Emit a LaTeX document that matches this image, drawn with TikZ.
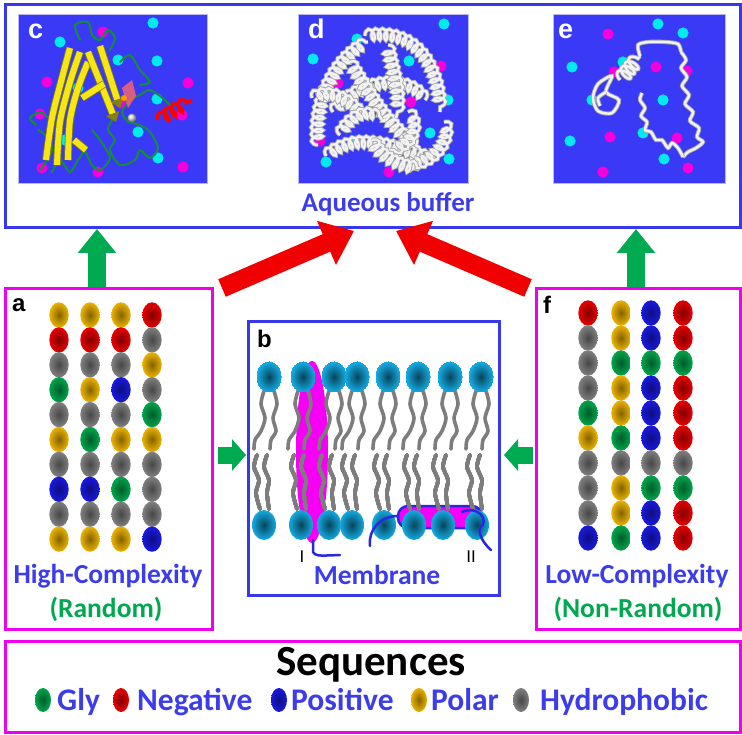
\documentclass[tikz,border=0pt]{standalone}
\usepackage{fontspec}
\setmainfont{Carlito}
\newfontfamily\arialf{Liberation Sans}
\usetikzlibrary{arrows.meta,decorations.pathmorphing,shapes.geometric}
\definecolor{bbox}{RGB}{55,55,235}
\definecolor{mbox}{RGB}{238,0,238}
\definecolor{pbg}{RGB}{58,58,246}
\definecolor{tblue}{RGB}{60,60,235}
\definecolor{tgreen}{RGB}{0,168,80}
\definecolor{arrg}{RGB}{0,170,80}
\definecolor{arrr}{RGB}{240,0,0}
\definecolor{cY}{RGB}{235,178,0}
\definecolor{cR}{RGB}{232,0,0}
\definecolor{cH}{RGB}{128,128,128}
\definecolor{cL}{RGB}{0,165,75}
\definecolor{cP}{RGB}{25,25,225}
\definecolor{dcyan}{RGB}{0,235,240}
\definecolor{dmag}{RGB}{245,0,220}
\definecolor{headc}{RGB}{20,170,225}
\definecolor{tailc}{RGB}{125,125,125}
\definecolor{protm}{RGB}{245,0,245}
\definecolor{protb}{RGB}{40,40,225}
\definecolor{ribY}{RGB}{245,230,20}
\definecolor{coilG}{RGB}{20,140,60}
\newcommand\lipidtop[1]{%
 \draw[tail] plot[smooth] coordinates {({#1-5},391) ({#1-8},404) ({#1-4},418) ({#1-8},431) ({#1-14},440) ({#1-15},449)};
 \draw[tail] plot[smooth] coordinates {({#1+5},391) ({#1+8},404) ({#1+4},418) ({#1+7},431) ({#1+2},440) ({#1+1},449)};}
\newcommand\lipidbot[1]{%
 \draw[tail] plot[smooth] coordinates {({#1-7},455) ({#1-10},467) ({#1-5},480) ({#1-8},493) ({#1-4},509)};
 \draw[tail] plot[smooth] coordinates {({#1+3},455) ({#1},467) ({#1+5},480) ({#1+3},493) ({#1+5},509)};}
\begin{document}
\begin{tikzpicture}[x=1pt,y=-1pt,
  bluebox/.style={draw=bbox,line width=3pt,inner sep=0pt,anchor=north west},
  magbox/.style={draw=mbox,line width=3pt,inner sep=0pt,anchor=north west},
  panel/.style={fill=pbg,draw=bbox!35!white,line width=0.8pt,inner sep=0pt,anchor=north west},
  garrow/.style={draw=arrg,line width=18pt,-{Triangle[length=24pt,width=37pt]}},
  gsarrow/.style={draw=arrg,line width=17pt,-{Triangle[length=14pt,width=31pt]}},
  rarrow/.style={draw=arrr,line width=19pt,-{Triangle[length=30pt,width=46pt]}},
  lblk/.style={font=\arialf\bfseries\fontsize{24}{24}\selectfont,anchor=base west,inner sep=0pt},
  lblw/.style={font=\arialf\bfseries\fontsize{27}{27}\selectfont,text=white,anchor=base west,inner sep=0pt},
  btxt/.style={font=\bfseries\fontsize{27.5}{27.5}\selectfont,text=tblue,anchor=base,inner sep=0pt},
  gtxt/.style={font=\bfseries\fontsize{27.5}{27.5}\selectfont,text=tgreen,anchor=base,inner sep=0pt},
  legt/.style={font=\bfseries\fontsize{31.5}{31.5}\selectfont,text=tblue,anchor=base west,inner sep=0pt},
  tail/.style={draw=tailc,line width=3.6pt,line cap=round},
  tube/.style={draw=gray!70,line width=0.9pt,double=gray!10,double distance=2.4pt},
  coiled/.style={decorate,decoration={coil,amplitude=6pt,segment length=6.5pt,aspect=0.5}},
  ribbon/.style={draw=ribY!55!black,line width=0.8pt,double=ribY,double distance=6pt},
  gcoil/.style={draw=coilG,line width=2pt,line cap=round}]
\useasboundingbox (0,0) rectangle (742,735);
\fill[white] (0,0) rectangle (742,735);

% ---------- top box and panels ----------
\node[bluebox,minimum width=735pt,minimum height=223pt] (top) at (3.5,3.5) {};
\node[panel,minimum width=189pt,minimum height=169pt] (pc) at (18,14) {};
\node[panel,minimum width=170pt,minimum height=169pt] (pd) at (298,14) {};
\node[panel,minimum width=172pt,minimum height=169pt] (pe) at (553,14) {};

% panel c dots
\foreach \x/\y in {153/23,60/42,118/60,157/61,78/88,157/99,138/132,65/140,158/158}
  \fill[dcyan] (\x,\y) circle (5.6);
\foreach \x/\y in {103/32,47/82,188/83,40/114,121/103,182/115,42/168,98/172,183/167}
  \fill[dmag] (\x,\y) circle (5.6);
% panel c protein
\begin{scope}
\clip (18,14) rectangle (207,183);
\draw[gcoil] plot[smooth] coordinates {(80,40) (75,25) (88,22) (92,35) (100,40) (108,30) (115,38) (110,50)};
\draw[gcoil] plot[smooth] coordinates {(40,170) (52,150) (45,135) (38,130)};
\draw[gcoil] plot[smooth] coordinates {(52,172) (60,160) (70,172) (78,160) (85,150)};
\draw[gcoil] plot[smooth] coordinates {(85,150) (92,165) (100,170) (110,158) (100,140) (92,130)};
\draw[gcoil] plot[smooth] coordinates {(112,120) (108,130) (115,140) (110,150) (120,165) (135,160) (140,150) (150,158) (158,148) (150,132) (140,125) (128,122)};
\draw[gcoil] plot[smooth] coordinates {(128,122) (122,112) (130,100) (140,95) (150,90) (165,100) (172,108)};
\draw[gcoil] plot[smooth] coordinates {(120,62) (130,55) (140,70) (150,82) (140,85)};
\draw[gcoil] plot[smooth] coordinates {(36,125) (30,118) (40,112) (48,118)};
% yellow strands
\draw[ribbon] plot[smooth] coordinates {(46,160) (52,118) (62,78) (70,48)};
\draw[ribbon] plot[smooth] coordinates {(57,165) (60,122) (70,82) (80,52)};
\draw[ribbon] plot[smooth] coordinates {(68,160) (70,120) (78,88) (88,62)};
\draw[ribbon,-{Triangle[length=9pt,width=14pt]}] (88,52) -- (116,122);
\draw[ribbon,-{Triangle[length=9pt,width=14pt]}] (100,46) -- (120,108);
\draw[ribbon] (82,98) -- (104,84);
\draw[ribbon] (74,140) -- (86,150);
% red/orange patch
\fill[red!60!white,opacity=0.8] (122,88) -- (132,80) -- (136,96) -- (128,108) -- cycle;
\fill[orange!80!yellow] (124,98) circle (3);
\shade[ball color=gray!30] (132,118) circle (4.5);
% red helix
\draw[red,line width=3.5pt,decorate,decoration={coil,amplitude=6pt,segment length=8pt}] (158,120) -- (192,100);
\end{scope}

% panel d dots
\foreach \x/\y in {444/24,313/59,409/61,370/89,448/100,356/141,430/133,326/162,449/159,357/39}
  \fill[dcyan] (\x,\y) circle (5.6);
\foreach \x/\y in {393/34,441/66,338/83,320/141,403/133,389/172,411/102}
  \fill[dmag] (\x,\y) circle (5.6);
% panel d protein
\begin{scope}
\clip (298,14) rectangle (468,183);
\draw[tube,coiled] (318,145) .. controls (312,100) and (338,55) .. (368,42);
\draw[tube,coiled] (365,36) .. controls (418,26) and (440,70) .. (440,112);
\draw[tube,coiled] (333,112) .. controls (358,80) and (408,72) .. (425,100);
\draw[tube,coiled] (326,156) .. controls (360,128) and (400,150) .. (438,160);
\draw[tube,coiled] (350,62) .. controls (378,108) and (392,128) .. (420,148);
\draw[tube,coiled] (444,122) .. controls (452,140) and (432,168) .. (400,164);
\draw[tube,coiled] (312,98) .. controls (330,88) and (350,100) .. (362,115);
\draw[tube,coiled] (388,45) .. controls (392,70) and (402,90) .. (396,118);
\draw[tube,coiled] (340,135) .. controls (350,115) and (368,108) .. (382,120);
\draw[tube,coiled] (408,112) .. controls (420,125) and (412,145) .. (390,150);
\draw[tube,coiled] (372,140) .. controls (380,155) and (395,165) .. (420,168);
\end{scope}

% panel e dots
\foreach \x/\y in {658/24,683/33,572/67,623/62,592/100,663/100,570/141,643/133,664/159}
  \fill[dcyan] (\x,\y) circle (5.6);
\foreach \x/\y in {608/34,656/67,687/71,614/72,610/137,677/138,603/172,688/168}
  \fill[dmag] (\x,\y) circle (5.6);
% panel e protein
\draw[tube] plot[smooth cycle] coordinates {(612,76) (598,84) (593,98) (598,111) (612,113) (619,100) (606,92)};
\draw[tube] plot[smooth] coordinates {(606,92) (598,98) (600,106)};
\draw[tube,decorate,decoration={coil,amplitude=7pt,segment length=6pt}] (620,80) -- (640,56);
\draw[tube] plot[smooth] coordinates {(640,56) (638,45) (648,42) (665,42) (678,44) (681,52)};
\draw[tube] plot[smooth] coordinates {(681,52) (686,60) (681,68) (687,77) (682,86) (689,95) (685,104) (693,112) (690,121) (699,128) (697,137) (703,142) (696,148) (688,152) (683,157)};
\draw[tube] plot[smooth] coordinates {(683,157) (678,148) (672,143) (668,148) (662,140) (656,140) (651,132) (645,130) (647,122) (641,116) (645,108) (640,100) (642,93)};

% ---------- labels of top panels ----------
\node[lblw] (lc) at (28,39) {c};
\node[lblw] (ld) at (308,39) {d};
\node[lblw] (le) at (558,39) {e};
\node[btxt,font=\bfseries\fontsize{27}{27}\selectfont] (aq) at (388,212) {Aqueous buffer};

% ---------- side boxes ----------
\node[magbox,minimum width=207pt,minimum height=340.5pt] (boxA) at (3.5,287.5) {};
\node[magbox,minimum width=204pt,minimum height=340.5pt] (boxF) at (534.5,287.5) {};
\node[bluebox,minimum width=251.5pt,minimum height=273.5pt] (boxB) at (246.5,320.5) {};
\node[magbox,minimum width=735pt,minimum height=91.5pt] (seq) at (3.5,639.5) {};

\node[lblk] (la) at (12,312) {a};
\node[lblk] (lb) at (257,348) {b};
\node[lblk] (lf) at (543,314) {f};

% beads in a
\foreach \x/\lst in {59/{cY,cR,cH,cL,cH,cY,cH,cP,cH,cY},
                     90/{cY,cR,cH,cY,cH,cL,cH,cP,cH,cY},
                     121/{cY,cR,cH,cP,cH,cY,cH,cL,cH,cY},
                     152/{cR,cH,cY,cH,cL,cY,cH,cH,cH,cP}}
  \foreach \c [count=\i from 0] in \lst
    \shade[inner color=\c!55!black,outer color=\c] (\x,{315+24.9*\i}) ellipse (9.7 and 12.7);
% beads in f
\foreach \x/\lst in {588/{cR,cH,cH,cH,cL,cY,cH,cH,cH,cP},
                     621/{cY,cY,cL,cY,cY,cL,cH,cY,cY,cL},
                     651/{cP,cP,cL,cP,cP,cP,cH,cL,cP,cP},
                     683/{cR,cR,cL,cR,cR,cR,cH,cL,cR,cR}}
  \foreach \c [count=\i from 0] in \lst
    \shade[inner color=\c!55!black,outer color=\c] (\x,{313+25*\i}) ellipse (9.7 and 12.7);

\node[btxt] (hc) at (108,583) {High-Complexity};
\node[gtxt] (rnd) at (106,617) {(Random)};
\node[btxt] (lcx) at (637,583) {Low-Complexity};
\node[gtxt] (nrnd) at (638,617) {(Non-Random)};

% ---------- membrane ----------
\fill[protm] (312,452) ellipse (16 and 91);
\draw[protb,line width=2.5pt,fill=protm,rounded corners=10pt] (398,506) rectangle (482,528);
\foreach \x in {269,303,334,357,388,418,450,481} \lipidtop{\x}
\foreach \x in {264,301,329,352,384,414,443,477} \lipidbot{\x}
\foreach \x in {269,303,334,357,388,418,450,481}
  \shade[inner color=headc!40!black,outer color=headc] (\x,377) ellipse (12 and 15);
\foreach \x in {264,301,329,352,384,414,443,477}
  \shade[inner color=headc!40!black,outer color=headc] (\x,525) ellipse (12 and 15);
\draw[protb,line width=2.5pt,line cap=round] (313,540) -- (313,552) .. controls (316,556) .. (340,555);
\draw[protb,line width=2.5pt,line cap=round] (370,546) .. controls (368,530) and (380,516) .. (398,516);
\draw[protb,line width=2.5pt,line cap=round] (462,512) .. controls (478,505) and (490,520) .. (480,528) .. controls (478,535) and (485,545) .. (491,550);
\node[font=\arialf\fontsize{17}{17}\selectfont,anchor=base,inner sep=0pt] (lI) at (302,562) {I};
\node[font=\arialf\fontsize{17}{17}\selectfont,anchor=base,inner sep=0pt] (lII) at (471,562) {II};
\node[btxt] (mem) at (377,584) {Membrane};

% ---------- arrows ----------
\coordinate (ga1s) at (97,287);
\coordinate (ga1e) at (97,229);
\coordinate (ga2s) at (636,287);
\coordinate (ga2e) at (636,229);
\coordinate (gbs) at (218,455);
\coordinate (gbe) at (246,455);
\coordinate (gfs) at (533,455);
\coordinate (gfe) at (504,455);
\coordinate (ra1s) at (222,288);
\coordinate (ra1e) at (354,231);
\coordinate (ra2s) at (528,288);
\coordinate (ra2e) at (396,231);
\draw[garrow] (ga1s) -- (ga1e);
\draw[garrow] (ga2s) -- (ga2e);
\draw[gsarrow] (gbs) -- (gbe);
\draw[gsarrow] (gfs) -- (gfe);
\draw[rarrow] (ra1s) -- (ra1e);
\draw[rarrow] (ra2s) -- (ra2e);

% ---------- legend ----------
\node[font=\bfseries\fontsize{43}{43}\selectfont,anchor=base,inner sep=0pt] (seqt) at (371,675) {Sequences};
\shade[inner color=cL!55!black,outer color=cL] (43,700) ellipse (8 and 12);
\node[legt] (lg1) at (57,710) {Gly};
\shade[inner color=cR!55!black,outer color=cR] (121,700) ellipse (8 and 12);
\node[legt] (lg2) at (137,710) {Negative};
\shade[inner color=cP!55!black,outer color=cP] (279,700) ellipse (8 and 12);
\node[legt] (lg3) at (291,710) {Positive};
\shade[inner color=cY!55!black,outer color=cY] (419,700) ellipse (8 and 12);
\node[legt] (lg4) at (431,710) {Polar};
\shade[inner color=cH!55!black,outer color=cH] (521,700) ellipse (8 and 12);
\node[legt] (lg5) at (540,710) {Hydrophobic};
\end{tikzpicture}
\end{document}
